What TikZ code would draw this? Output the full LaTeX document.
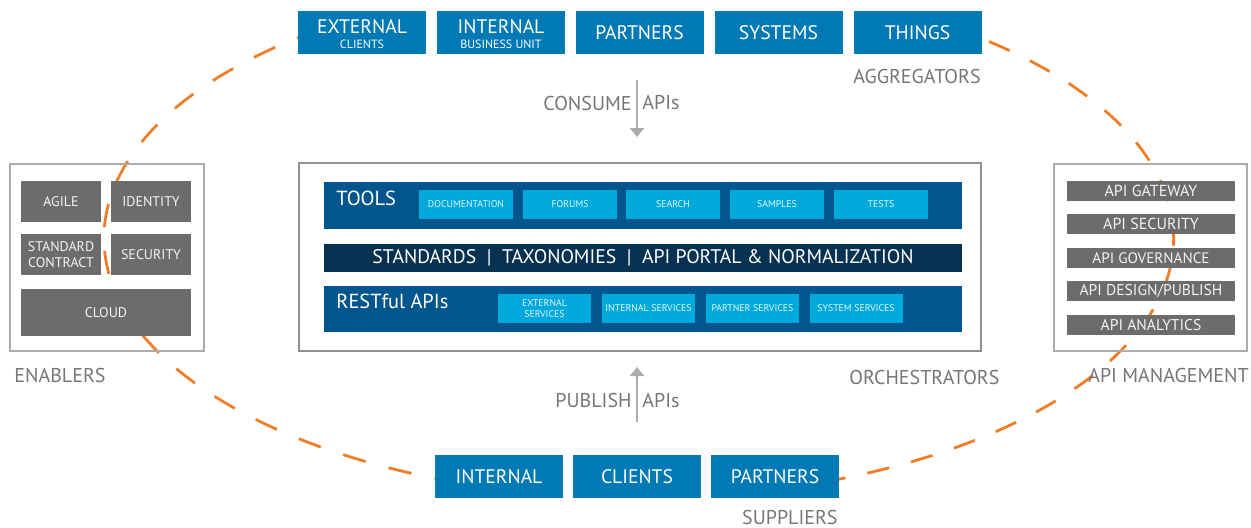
\documentclass[tikz,border=0pt]{standalone}
\usepackage{fontspec}
\setmainfont{PT Sans}
\usetikzlibrary{arrows.meta}

\definecolor{midblue}{RGB}{0,121,181}
\definecolor{bandblue}{RGB}{0,86,141}
\definecolor{navy}{RGB}{6,49,80}
\definecolor{skyblue}{RGB}{0,168,220}
\definecolor{slate}{RGB}{108,108,108}
\definecolor{labelgray}{RGB}{118,118,118}
\definecolor{framegray}{RGB}{172,172,172}
\definecolor{dashorange}{RGB}{240,126,40}
\definecolor{arrowgray}{RGB}{172,172,172}

\tikzset{
  bluebox/.style={fill=midblue, text=white, minimum width=64pt, minimum height=21.5pt,
    inner sep=0pt, align=center, font=\fontsize{9.8}{10}\selectfont},
  band/.style={minimum width=319pt, inner sep=0pt},
  toolbox/.style={fill=skyblue, text=white!90!skyblue, minimum height=14.5pt, inner sep=0pt,
    align=center, font=\fontsize{4.9}{5}\selectfont},
  graybox/.style={fill=slate, text=white!92!slate, inner sep=0pt, align=center},
  frame/.style={draw=framegray, line width=0.75pt, inner sep=0pt},
  caption/.style={text=labelgray, inner sep=0pt, font=\fontsize{10}{11}\selectfont},
  flow/.style={draw=arrowgray, line width=1pt, -{Triangle[width=7pt,length=4.5pt]}},
  ring/.style={draw=dashorange, line width=1.4pt},
}

\begin{document}
\begin{tikzpicture}[x=0.5pt,y=-0.5pt]
  \clip (0,0) rectangle (1251,527);

  % orange ring, in two halves that run behind the blue boxes
  \coordinate (ringwest) at (298,37.6);
  \coordinate (ringeast) at (711,495.6);
  \draw[ring, dash pattern=on 11.75pt off 11.85pt, dash phase=11.225pt]
    (ringwest) arc[start angle=129.58, end angle=261.85, x radius=267.4pt, y radius=130pt];
  \draw[ring, dash pattern=on 11.25pt off 11.25pt, dash phase=10.925pt]
    (ringeast) arc[start angle=277.76, end angle=410.2, x radius=267.4pt, y radius=130pt];

  % consumers
  \node[bluebox] (external) at (362,32.5)
    {\rule{0pt}{9pt}EXTERNAL\\[-2.5pt]{\fontsize{6}{6}\selectfont CLIENTS}};
  \node[bluebox] (internal) at (501,32.5)
    {\rule{0pt}{9pt}INTERNAL\\[-2.5pt]{\fontsize{6}{6}\selectfont BUSINESS UNIT}};
  \node[bluebox] (partners) at (639.5,32.5) {PARTNERS};
  \node[bluebox] (systems) at (778.5,32.5) {SYSTEMS};
  \node[bluebox] (things) at (917.5,32.5) {THINGS};
  \node[caption, anchor=east] (aggregators) at (981,76) {AGGREGATORS};

  \coordinate (consumefrom) at (637,80);
  \coordinate (consumeto) at (637,137);
  \draw[flow] (consumefrom) -- (consumeto);
  \node[caption, anchor=east] (consume) at (632,103) {CONSUME};
  \node[caption, anchor=west] (consumeapis) at (642,103) {APIs};

  % orchestration platform
  \node[draw=labelgray!80, line width=1pt, inner sep=0pt, minimum width=341pt,
    minimum height=94pt] (orch) at (640,257) {};

  \node[band, fill=bandblue, minimum height=23.5pt] (tools) at (643,205.5) {};
  \node[text=white, anchor=west, inner sep=0pt, font=\fontsize{10.2}{11}\selectfont]
    (toolslabel) at (336,198) {TOOLS};
  \node[toolbox, minimum width=47pt] (documentation) at (466,204.5) {DOCUMENTATION};
  \node[toolbox, minimum width=47pt] (forums) at (570,204.5) {FORUMS};
  \node[toolbox, minimum width=47pt] (search) at (673,204.5) {SEARCH};
  \node[toolbox, minimum width=47pt] (samples) at (777,204.5) {SAMPLES};
  \node[toolbox, minimum width=47pt] (tests) at (881,204.5) {TESTS};

  \node[band, fill=navy, minimum height=14pt, text=white,
    font=\fontsize{9.85}{11}\selectfont] (standards) at (643,257.5)
    {STANDARDS\ \ |\ \ TAXONOMIES\ \ |\ \ API PORTAL \& NORMALIZATION};

  \node[band, fill=bandblue, minimum height=23pt] (restful) at (643,309) {};
  \node[text=white, anchor=west, inner sep=0pt, font=\fontsize{10.2}{11}\selectfont]
    (restlabel) at (336,301) {RESTful APIs};
  \node[toolbox, minimum width=46.5pt] (extservices) at (544.5,308.5)
    {EXTERNAL\\[0.8pt]SERVICES};
  \node[toolbox, minimum width=46.5pt] (intservices) at (648.5,308.5) {INTERNAL SERVICES};
  \node[toolbox, minimum width=46.5pt] (partservices) at (752.5,308.5) {PARTNER SERVICES};
  \node[toolbox, minimum width=46.5pt] (sysservices) at (856,308.5) {SYSTEM SERVICES};
  \node[caption, anchor=west] (orchestrators) at (849,377) {ORCHESTRATORS};

  % enablers
  \node[frame, minimum width=97pt, minimum height=93.5pt] (enablers) at (107,257.5) {};
  \node[graybox, minimum width=40pt, minimum height=20.5pt, font=\fontsize{7}{7}\selectfont]
    (agile) at (61,201.5) {AGILE};
  \node[graybox, minimum width=40pt, minimum height=20.5pt, font=\fontsize{7}{7}\selectfont]
    (identity) at (151,201.5) {IDENTITY};
  \node[graybox, minimum width=40pt, minimum height=20.5pt, font=\fontsize{7}{7}\selectfont]
    (contract) at (61,254.5) {STANDARD\\[1pt]CONTRACT};
  \node[graybox, minimum width=40pt, minimum height=20.5pt, font=\fontsize{7}{7}\selectfont]
    (security) at (151,254.5) {SECURITY};
  \node[graybox, minimum width=85pt, minimum height=23.5pt, font=\fontsize{7}{7}\selectfont]
    (cloud) at (106,312.5) {CLOUD};
  \node[caption, anchor=west] (enablerslabel) at (14,375) {ENABLERS};

  % api management
  \node[frame, minimum width=96.5pt, minimum height=93.5pt] (mgmt) at (1150.5,257.5) {};
  \node[graybox, minimum width=84pt, minimum height=10pt, font=\fontsize{8}{8}\selectfont]
    (gateway) at (1151,191) {API GATEWAY};
  \node[graybox, minimum width=84pt, minimum height=10pt, font=\fontsize{8}{8}\selectfont]
    (apisecurity) at (1151,224) {API SECURITY};
  \node[graybox, minimum width=84pt, minimum height=10pt, font=\fontsize{7.6}{8}\selectfont]
    (governance) at (1151,258) {API GOVERNANCE};
  \node[graybox, minimum width=84pt, minimum height=10pt, font=\fontsize{7.8}{8}\selectfont]
    (design) at (1151,291) {API DESIGN/PUBLISH};
  \node[graybox, minimum width=84pt, minimum height=10pt, font=\fontsize{7.8}{8}\selectfont]
    (analytics) at (1151,325) {API ANALYTICS};
  \node[caption, anchor=east] (mgmtlabel) at (1249,375) {API MANAGEMENT};

  % suppliers
  \coordinate (publishfrom) at (637,422);
  \coordinate (publishto) at (637,367);
  \draw[flow] (publishfrom) -- (publishto);
  \node[caption, anchor=east] (publish) at (632,400) {PUBLISH};
  \node[caption, anchor=west] (publishapis) at (642,400) {APIs};

  \node[bluebox] (supinternal) at (499,476.5) {INTERNAL};
  \node[bluebox] (supclients) at (637,476.5) {CLIENTS};
  \node[bluebox] (suppartners) at (775,476.5) {PARTNERS};
  \node[caption, anchor=east] (suppliers) at (838,517) {SUPPLIERS};
\end{tikzpicture}
\end{document}
